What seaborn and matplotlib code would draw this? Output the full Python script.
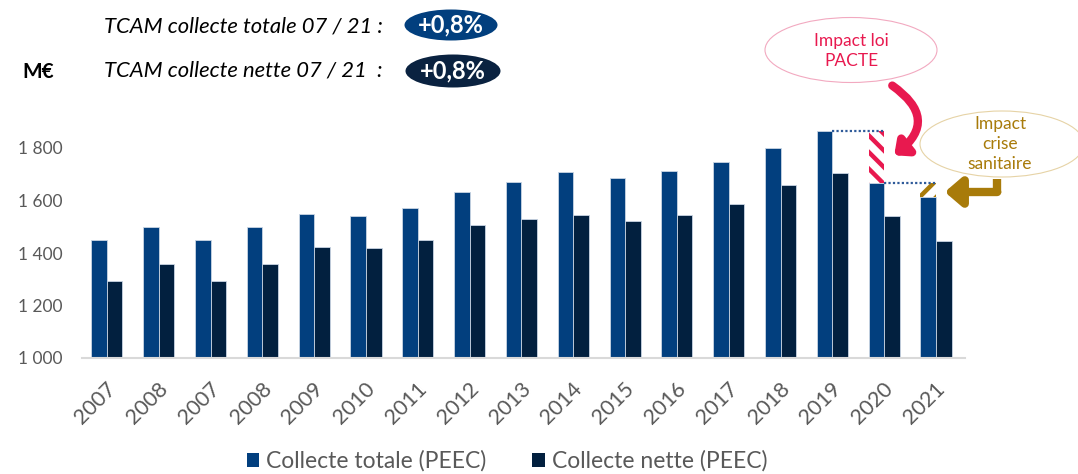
import matplotlib
matplotlib.use("Agg")
import matplotlib.pyplot as plt
import matplotlib.transforms as mtransforms
import seaborn as sns
import pandas as pd
import numpy as np
from matplotlib.patches import Ellipse, FancyArrowPatch
from matplotlib.lines import Line2D
from matplotlib.patches import Patch

# ---- data ----
years = ["2007", "2008", "2007", "2008", "2009", "2010", "2011", "2012", "2013",
         "2014", "2015", "2016", "2017", "2018", "2019", "2020", "2021"]
collecte_totale = [1450, 1500, 1450, 1500, 1550, 1542, 1573, 1631, 1672,
                   1708, 1687, 1711, 1748, 1801, 1866, 1665, 1615]
collecte_nette = [1295, 1360, 1295, 1360, 1423, 1420, 1450, 1505, 1531,
                  1543, 1522, 1545, 1585, 1659, 1705, 1541, 1447]
series = ["Collecte totale (PEEC)", "Collecte nette (PEEC)"]
yticks = [1000, 1200, 1400, 1600, 1800]
tcam_totale = "+0,8%"
tcam_nette = "+0,8%"

C_TOT = "#023f7e"
C_NET = "#02203f"
GRAY = "#595959"
RED = "#e8194f"
GOLD = "#a87b0a"

sns.set_theme(style="white")
plt.rcParams["font.family"] = ["Lato", "DejaVu Sans"]
plt.rcParams["hatch.linewidth"] = 3.2

W, H = 1078, 474
fig = plt.figure(figsize=(W / 100, H / 100), dpi=100)
ax = fig.add_axes([82 / W, (H - 358) / H, (965 - 82) / W, (358 - 121.75) / H])

df = pd.DataFrame({
    "pos": list(range(len(years))) * 2,
    "value": collecte_totale + collecte_nette,
    "serie": [series[0]] * len(years) + [series[1]] * len(years),
})
group_w = 0.6
sns.barplot(data=df, x="pos", y="value", hue="serie", palette=[C_TOT, C_NET],
            width=group_w, ax=ax, legend=False, edgecolor="#c9d5e4", linewidth=0.6,
            saturation=1)

ax.set_ylim(1000, 1900)
ax.set_xlim(-0.48, len(years) - 1 + 0.56)
ax.set_yticks(yticks)
ax.set_yticklabels([f"{v:,}".replace(",", " ") for v in yticks], color=GRAY, fontsize=12.5)
ax.set_xticks(range(len(years)))
ax.set_xticklabels(years, rotation=45, ha="right", va="center", rotation_mode="anchor",
                   color=GRAY, fontsize=15.5)
ax.tick_params(axis="y", length=0, pad=14)
ax.tick_params(axis="x", length=0, pad=20)
off = mtransforms.ScaledTranslation(6 / 100, 0, fig.dpi_scale_trans)
for lab in ax.get_xticklabels():
    lab.set_transform(lab.get_transform() + off)
ax.set_xlabel("")
ax.set_ylabel("")
for s in ["top", "right", "left"]:
    ax.spines[s].set_visible(False)
ax.spines["bottom"].set_color("#d9d9d9")
ax.spines["bottom"].set_linewidth(1.5)

# ---- impact annotations ----
bw = group_w / 2
i19, i20, i21 = 14, 15, 16
x19 = i19 - bw / 2
x20 = i20 - bw / 2
x21 = i21 - bw / 2
# PACTE hatch
ax.bar(x20, collecte_totale[i19] - collecte_totale[i20], bottom=collecte_totale[i20],
       width=bw, facecolor="white", edgecolor=RED, hatch="\\\\", linewidth=0, zorder=3)
# crise sanitaire hatch
ax.bar(x21, collecte_totale[i20] - collecte_totale[i21], bottom=collecte_totale[i21],
       width=bw, facecolor="white", edgecolor=GOLD, hatch="//", linewidth=0, zorder=3)
# dotted lines
ax.hlines(collecte_totale[i19], x19 + bw / 2, x20 + bw / 2, colors="#2f5b9a",
          linestyles=(0, (1, 1)), linewidth=1.6, zorder=4)
ax.hlines(collecte_totale[i20], x20 + bw / 2, x21 + bw / 2, colors="#2f5b9a",
          linestyles=(0, (1, 1)), linewidth=1.6, zorder=4)

# ---- figure-level decorations (pixel coordinates) ----
T = fig.dpi_scale_trans
def P(x, y):
    return (x / 100, (H - y) / 100)

def ell(cx, cy, w, h, **kw):
    e = Ellipse(P(cx, cy), w / 100, h / 100, transform=T, **kw)
    fig.patches.append(e)
    e.set_figure(fig)

# header
fig.text(104 / W, 1 - 26 / H, "TCAM collecte totale 07 / 21 :", style="italic",
         fontsize=15.8, color="black", ha="left", va="center")
fig.text(104 / W, 1 - 71 / H, "TCAM collecte nette 07 / 21  :", style="italic",
         fontsize=15.8, color="black", ha="left", va="center")
fig.text(22 / W, 1 - 72 / H, "M€", fontweight="bold", fontsize=15, color="black",
         ha="left", va="center")
ell(451, 25, 93, 31, facecolor=C_TOT, edgecolor="none")
ell(453, 71, 95, 33, facecolor="#0a2240", edgecolor="none")
fig.text(451 / W, 1 - 25 / H, tcam_totale, fontweight="bold", fontsize=17, color="white",
         ha="center", va="center")
fig.text(453 / W, 1 - 71 / H, tcam_nette, fontweight="bold", fontsize=17, color="white",
         ha="center", va="center")

# bubbles
ell(851, 50, 172, 65, facecolor="white", edgecolor="#f2a9c0", linewidth=0.8)
fig.text(851 / W, 1 - 51 / H, "Impact loi\nPACTE", color=RED, fontsize=12.5,
         ha="center", va="center", linespacing=1.35)
ell(1002, 144, 164, 66, facecolor="white", edgecolor="#e6d3a6", linewidth=0.8)
fig.text(1000 / W, 1 - 144 / H, "Impact\ncrise\nsanitaire", color=GOLD, fontsize=12.5,
         ha="center", va="center", linespacing=1.3)

# red curved arrow
arr = FancyArrowPatch(P(890, 84), P(892, 157), transform=T,
                      connectionstyle="arc3,rad=-0.7", arrowstyle="-|>,head_length=0.5,head_width=0.45",
                      color=RED, linewidth=6, mutation_scale=14)
fig.patches.append(arr)
arr.set_figure(fig)

# gold elbow arrow
ln = Line2D([997 / 100, 997 / 100], [(H - 179) / 100, (H - 193) / 100], transform=T,
            color=GOLD, linewidth=6, solid_capstyle="butt")
fig.lines.append(ln)
ln.set_figure(fig)
arr2 = FancyArrowPatch(P(1000, 192), P(942, 192), transform=T,
                       arrowstyle="-|>,head_length=0.7,head_width=0.6",
                       color=GOLD, linewidth=6, mutation_scale=14)
fig.patches.append(arr2)
arr2.set_figure(fig)

# legend
handles = [Patch(facecolor=C_TOT, edgecolor="none"), Patch(facecolor=C_NET, edgecolor="none")]
fig.legend(handles, series, loc="center", bbox_to_anchor=(507 / W, 1 - 461 / H), ncol=2,
           frameon=False, fontsize=16.5, handlelength=0.55, handleheight=0.55, handletextpad=0.3,
           columnspacing=2.0, labelcolor=GRAY)

fig.savefig("out.png", dpi=100)
